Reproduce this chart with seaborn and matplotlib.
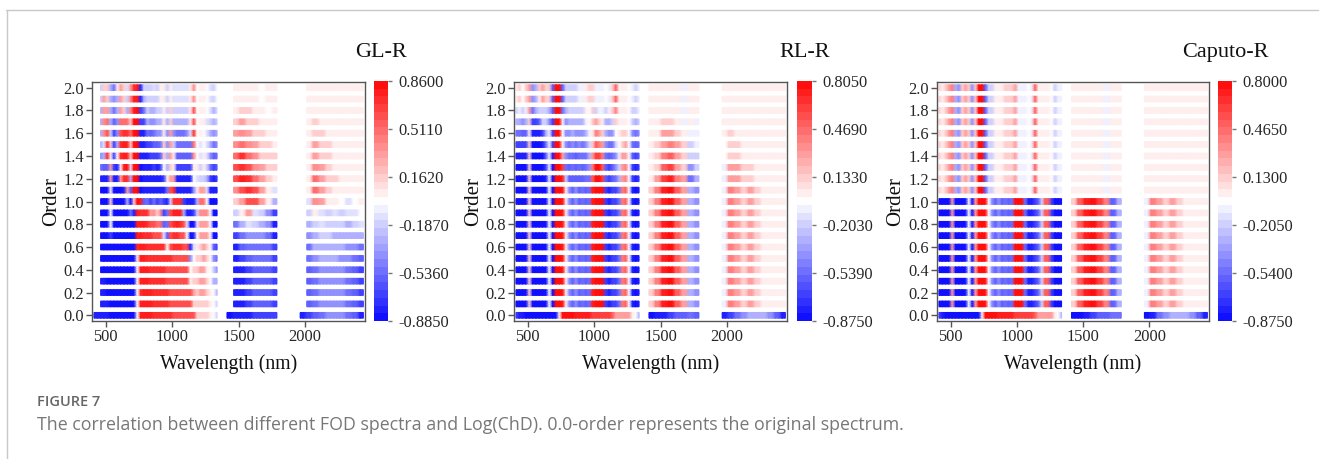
import numpy as np
import matplotlib
matplotlib.use("Agg")
import matplotlib.pyplot as plt
from matplotlib.colors import ListedColormap
from matplotlib.lines import Line2D
import seaborn as sns

N = None

tick_orders = [0.0, 0.2, 0.4, 0.6, 0.8, 1.0, 1.2, 1.4, 1.6, 1.8, 2.0]
tick_nm = [500, 1000, 1500, 2000]

# correlation in tenths, order 0.0 first. vis = 400-1350 nm in 25 nm bins
gl_vis = [
    [-8,-8,-8,-8,-8,-9,-9,-9,-9,-9, -9,-9,-9,0,8,8,8,8,7,7, 7,7,7,7,6,6,6,6,6,6, 6,2,2,2,2,1,0,-2],
    [N,N,-8,-8,-8,-9,-9,-9,-9,-9, -9,-9,-9,0,8,8,8,8,7,7, 7,7,7,6,6,6,6,6,6,6, 2,2,2,2,2,1,0,-2],
    [N,N,-8,-8,-9,-9,-9,-9,-9,-9, -9,-9,-9,0,7,8,8,8,7,7, 7,7,7,6,6,6,6,6,6,6, 3,2,3,3,2,1,0,-3],
    [N,N,-8,-8,-9,-9,-9,-9,-9,-9, -9,-9,-9,0,8,8,8,7,7,7, 7,7,6,6,6,6,6,6,6,1, 2,2,3,3,2,0,-3,-3],
    [N,N,-9,-9,-9,-9,-9,-9,-9,-9, -9,-9,-9,0,8,8,8,7,7,7, 7,7,6,6,6,6,6,6,6,0, 2,2,3,3,1,0,-2,-4],
    [N,N,-9,-9,-9,-9,-9,-9,-9,-9, -9,-9,-9,1,8,8,7,7,7,7, 7,7,7,7,6,6,6,6,6,-4, 0,2,2,3,2,0,-4,-5],
    [N,N,-9,-9,-9,-9,-9,-9,-9,-9, -9,-9,-9,7,8,8,7,7,7,7, 7,7,0,6,7,7,7,6,6,-8, -1,1,2,3,2,0,-6,-7],
    [N,N,-9,-9,-9,-7,-9,-9,-9,-9, -9,-9,-9,8,8,7,7,7,6,6, 6,-1,-6,6,7,7,6,6,0,-9, -8,0,3,3,3,0,-9,-9],
    [N,N,-9,-9,-9,0,-9,-9,-9,-9, -9,-9,-9,8,8,8,7,6,6,5, 5,-6,-5,6,7,8,7,6,-1,-9, -9,-1,3,3,3,0,-9,-9],
    [N,N,-9,-9,-9,0,-9,-9,-9,-9, -9,-5,-8,8,7,7,7,3,4,2, 4,-7,-5,6,8,8,8,-3,-8,-8, -7,-2,4,4,4,0,-9,-9],
    [N,N,-9,-9,-9,2,-9,-9,-9,-9, -3,-9,2,9,8,-6,-5,-7,-5,-7, -6,-7,-8,-2,7,7,7,-7,-8,-8, -8,-3,5,5,0,-9,-9,-9],
    [N,N,-9,-9,-9,1,-9,-9,-9,-8, 3,-6,9,9,-9,-8,-8,-8,-8,-8, -8,-8,-5,6,7,-8,-8,-8,-8,-8, -4,1,3,3,-1,-8,-8,-8],
    [N,N,-8,-8,-8,3,-8,-8,3,7, 7,-3,9,9,-9,-8,-8,-8,-8,-8, -8,-7,1,3,3,-8,-8,-8,-8,-8, 0,-1,-2,-2,-3,-7,-8,-7],
    [N,N,-5,-6,-6,3,-7,-8,1,8, 9,-1,9,9,-9,-8,-8,-8,-7,-8, -7,0,-3,2,1,-7,-7,-7,-7,-7, 1,1,-2,1,-2,-5,-7,-6],
    [N,N,-4,-3,7,1,-7,0,7,8, 8,2,9,9,-8,-8,-8,-7,-7,-7, -6,2,-3,3,1,-6,-6,-6,-6,-6, 4,0,-1,1,-1,-4,-6,-5],
    [N,N,-3,-1,7,2,-7,-3,7,8, 8,2,9,9,-8,-8,-7,-7,-6,-6, -5,2,-4,3,-2,-5,-5,-5,-5,-5, 5,0,-1,0,-1,-3,-5,-4],
    [N,N,-3,4,6,-2,-7,-4,6,7, 7,5,9,9,-8,-8,-5,-6,-5,-4, -4,1,-4,3,-4,-5,-5,-5,-4,-1, 7,0,1,0,-1,-3,-4,-3],
    [N,N,-3,4,5,-3,-6,-4,5,5, 5,2,9,9,-7,-7,-3,-4,-4,-3, -3,1,-3,2,-3,-3,-3,-3,-3,1, 6,0,1,1,-1,-2,-3,-2],
    [N,N,-3,3,3,-3,-5,-3,3,2, -3,4,8,9,-7,-5,-2,-3,-3,-2, -2,1,-2,2,-2,-2,-2,-2,-2,1, 6,0,1,1,0,-1,-3,-1],
    [N,N,-2,3,2,-3,-4,-3,3,2, -2,4,8,8,-8,-3,-2,-2,-2,-2, 1,1,-2,1,-1,-1,-1,-1,-1,1, 4,0,1,1,0,-1,-2,0],
    [N,N,-2,2,2,-3,-5,1,3,2, -1,3,7,8,-8,-2,-2,-2,-1,-2, 1,1,-2,1,-1,-1,-1,-1,-1,1, 4,0,1,1,0,-1,-2,0],
]

# swir = 1350-2450 nm in 50 nm bins
gl_swir = [
    [N,-9, -8,-8,-8,-7,-7,-7,-7, N,N,N,-8, -7,-6,-5,-4,-4,-4,-5,-6,-8],
    [N,N, -8,-8,-7,-6,-6,-6,-7, N,N,N,N, -6,-5,-4,-4,-4,-4,-5,-6,-7],
    [N,N, -8,-8,-7,-6,-6,-6,-7, N,N,N,N, -6,-5,-4,-4,-4,-4,-5,-6,-7],
    [N,N, -8,-8,-7,-6,-6,-6,-7, N,N,N,N, -6,-5,-4,-4,-4,-4,-5,-6,-7],
    [N,N, -8,-8,-7,-6,-6,-6,-7, N,N,N,N, -6,-5,-4,-4,-4,-4,-5,-6,-7],
    [N,N, -8,-7,-6,-5,-5,-5,-7, N,N,N,N, -5,-4,-3,-3,-3,-4,-4,-5,-6],
    [N,N, -8,-6,-5,-5,-5,-5,-7, N,N,N,N, -5,-3,-3,-3,-3,-3,-4,-4,-5],
    [N,N, -7,-5,-4,-4,-4,-5,-8, N,N,N,N, -4,-3,-2,-2,-3,-3,-3,-3,-3],
    [N,N, -5,-3,-1,-2,-3,-4,-8, N,N,N,N, -3,-2,-1,-2,-2,-2,-3,-2,-1],
    [N,N, -2,1,3,-1,-2,-4,-7, N,N,N,N, -2,1,-1,-2,-1,-2,-1,-1,0],
    [N,N, 2,3,6,6,3,1,-3, N,N,N,N, -1,4,3,1,1,0,-1,0,1],
    [N,N, 4,6,7,6,3,1,-1, N,N,N,N, 1,5,3,2,1,1,1,1,1],
    [N,N, 6,8,7,5,3,2,1, N,N,N,N, 1,5,3,2,2,1,1,1,1],
    [N,N, 6,7,6,4,3,2,2, N,N,N,N, 1,4,3,2,1,1,1,1,1],
    [N,N, 5,7,5,4,2,2,2, N,N,N,N, 1,3,2,2,1,1,1,1,1],
    [N,N, 4,5,4,3,2,2,1, N,N,N,N, 1,3,2,2,1,1,1,1,1],
    [N,N, 3,4,3,2,2,1,1, N,N,N,N, 1,2,2,1,1,1,1,1,1],
    [N,N, 2,3,2,2,1,1,1, N,N,N,N, 1,2,1,1,1,1,1,1,1],
    [N,N, 1,2,2,1,1,0,1, N,N,N,N, 1,1,1,1,1,1,1,1,1],
    [N,N, 1,1,1,1,0,1,1, N,N,N,N, 1,1,1,1,1,1,1,1,1],
    [N,N, 1,1,1,1,0,1,1, N,N,N,N, 1,1,1,1,1,1,1,1,1],
]

rl_vis_zero = [-7,-8,-8,-9,-9,-9,-9,-9,-9,-9, -9,-9,-9,1,8,8,8,8,7,7, 7,7,7,6,6,6,6,6,6,5, 3,3,3,3,3,1,0,-3]
rl_vis_low = [-9,-9,-9,-9,2,-9,-9,-9,-9,-9, 0,-9,8,9,8,1,-4,-6,-4,-6, -5,-6,-5,7,9,9,8,-7,-8,-7, -7,-5,4,5,0,-8,-9,-8]
rl_vis_high = [
    [-9,-9,-9,-9,2,-9,-9,-9,-9,-8, -1,-9,8,9,7,-2,-6,-6,-6,-6, -6,-5,-5,5,8,8,6,-6,-7,-6, -5,-3,3,4,0,-7,-8,-7],
    [-9,-9,-9,-9,2,-9,-9,-9,-9,-7, -1,-9,9,9,6,-5,-6,-5,-6,-5, -6,-5,-4,4,8,8,5,-6,-7,-6, -4,-2,3,4,0,-7,-8,-7],
    [-8,-8,-8,-8,2,-9,-9,-9,-9,-6, -1,-8,8,9,3,-4,-5,-5,-6,-5, -5,-5,-3,3,6,6,4,-5,-6,-5, -4,-1,3,3,0,-6,-7,-6],
    [-7,-7,-7,-7,2,-9,-9,-9,-8,-5, -1,-7,9,9,1,-4,-5,-4,-5,-4, -5,-4,-2,2,5,4,3,-4,-5,-5, -2,0,2,3,0,-5,-6,-5],
    [-5,-5,-6,-6,1,-8,-8,-8,-7,-3, -1,-7,9,9,0,-4,-4,-3,-4,-4, -4,-3,-1,1,4,3,2,-3,-4,-4, 0,1,2,2,0,-4,-5,-4],
    [-3,-3,-4,-3,2,-7,-7,-6,-2,-2, -4,-7,8,9,-1,-4,-3,-3,-3,-3, -3,-1,0,2,3,2,1,-3,-3,-2, 2,1,1,1,0,-2,-3,-2],
    [-2,-1,-2,-1,3,-5,-3,-2,-2,-2, -3,-6,8,9,-5,-3,-2,-2,-2,-2, -2,1,0,2,-2,-1,-1,-2,-1,2, 4,1,1,1,0,-2,-2,-1],
    [1,2,0,2,3,-4,-3,1,3,2, 2,-6,8,8,-6,-2,-2,-2,-2,-1, -1,1,2,2,-1,-1,-1,0,-1,2, 5,1,1,1,0,-1,-2,-1],
    [1,2,0,2,3,-4,-3,2,3,2, 2,-6,8,8,-6,-2,-2,-2,-2,-1, -1,1,2,2,-1,-1,-1,0,-1,2, 5,1,1,1,0,-1,-2,-1],
]
rl_swir_zero = [N,-9, -8,-8,-7,-6,-6,-5,-6, N,N,N,-8, -7,-5,-4,-3,-3,-3,-4,-6,-8]
rl_swir_low = [N,2, 4,7,8,5,3,-3,-4, N,N,N,-1, 4,3,2,3,2,1,1,1,1]
rl_swir_high = [
    [N,1, 3,6,7,4,3,-5,-3, N,N,N,-1, 3,3,2,2,1,1,1,1,1],
    [N,1, 2,5,6,3,2,-4,-2, N,N,N,-1, 3,3,2,2,1,1,1,1,1],
    [N,1, 2,4,5,3,2,-2,-2, N,N,N,0, 2,2,1,1,1,1,1,1,1],
    [N,1, 2,3,4,3,2,-2,-1, N,N,N,0, 2,2,1,1,1,1,1,1,1],
    [N,1, 1,3,3,2,1,-1,-1, N,N,N,1, 2,1,1,1,1,1,1,1,1],
    [N,1, 1,2,2,1,-1,1,-1, N,N,N,1, 1,1,1,1,1,1,1,1,1],
    [N,1, 1,1,1,1,-1,1,1, N,N,N,1, 1,1,1,1,1,1,1,1,1],
    [N,1, 1,1,1,1,-1,1,1, N,N,N,1, 1,1,1,1,1,1,1,1,1],
    [N,1, 1,1,1,1,-1,1,1, N,N,N,1, 1,1,1,1,1,1,1,1,1],
]

cap_vis_zero = [-7,-8,-9,-9,-9,-9,-9,-9,-9,-9, -9,-9,-9,1,8,8,8,8,7,7, 7,7,7,6,6,6,6,6,6,5, 3,3,3,3,3,1,0,-3]
cap_vis_low = [-9,-9,-9,-9,3,-9,-9,-9,-9,0, -9,3,8,9,9,0,-4,-6,-4,-6, -5,-6,-5,8,9,9,-5,-8,-8,-7, -6,-2,5,5,-7,-9,-9,-9]
cap_vis_high = [2,1,2,3,4,-3,-4,2,3,2, -4,2,8,9,-6,-2,-2,1,1,1, 2,2,2,3,-1,-1,-1,0,-1,5, 1,1,1,1,0,-2,-1,-1]
cap_swir_zero = [N,-9, -9,-8,-7,-6,-6,-5,-5, N,N,N,-9, -8,-5,-4,-3,-3,-3,-4,-6,-8]
cap_swir_low = [N,2, 5,7,8,6,4,-6,-3, N,N,N,-1, 4,3,2,3,2,1,1,1,1]
cap_swir_high = [N,1, 1,1,1,1,-1,1,1, N,N,N,1, 1,1,1,1,1,1,1,1,1]

rl_vis = [rl_vis_zero] + [rl_vis_low] * 11 + rl_vis_high
rl_swir = [rl_swir_zero] + [rl_swir_low] * 11 + rl_swir_high
cap_vis = [cap_vis_zero] + [cap_vis_low] * 10 + [cap_vis_high] * 10
cap_swir = [cap_swir_zero] + [cap_swir_low] * 10 + [cap_swir_high] * 10

# the four faintest steps of the lists, as correlation
faint_steps = {0: -0.03, 1: 0.03, 2: 0.15, -1: -0.1}

titles = ["GL-R", "RL-R", "Caputo-R"]
cbar_labels = [
    [0.8600, 0.5110, 0.1620, -0.1870, -0.5360, -0.8850],
    [0.8050, 0.4690, 0.1330, -0.2030, -0.5390, -0.8750],
    [0.8000, 0.4650, 0.1300, -0.2050, -0.5400, -0.8750],
]

W, H = 1319, 459
sns.set_theme(style="white")
plt.rcParams["font.family"] = ["Liberation Serif", "DejaVu Serif"]
plt.rcParams["text.color"] = "#111111"

fig = plt.figure(figsize=(W / 100, H / 100), dpi=100)


def px_axes(x0, x1, y0, y1):
    return fig.add_axes([x0 / W, 1 - y1 / H, (x1 - x0) / W, (y1 - y0) / H])


def grid_from(vis, swir):
    # each order gets 6 thin rows: blank, 4 coloured, blank
    grid = np.full((6 * 21, 82), np.nan)
    for k in range(21):
        steps = np.array(vis[k] + list(np.repeat(np.array(swir[k], dtype=float), 2)), dtype=float)
        row = steps / 10
        for step, value in faint_steps.items():
            row[steps == step] = value
        r = (20 - k) * 6
        grid[r + 1:r + 5] = row
    return grid


panels = [
    (gl_vis, gl_swir, 92, 365, 374, 388, 52, 381.5),
    (rl_vis, rl_swir, 514, 787, 797, 812, 474, 805),
    (cap_vis, cap_swir, 937, 1209, 1218, 1232, 896, 1225),
]
cmap = ListedColormap(sns.color_palette("bwr", 31))
cmap.set_bad("white")

for p, (vis, swir, x0, x1, cx0, cx1, ylab_x, title_x) in enumerate(panels):
    ax = px_axes(x0, x1, 82, 321)
    cax = px_axes(cx0, cx1, 81, 321)
    labels = cbar_labels[p]
    sns.heatmap(grid_from(vis, swir), ax=ax, cbar_ax=cax, cmap=cmap, shading="gouraud",
                vmin=labels[-1], vmax=labels[0], xticklabels=False, yticklabels=False)

    # gouraud puts each value on a grid node, so bin centres sit at whole numbers
    ax.set_xlim(-0.6, 81.5)
    ax.set_ylim(125.5, -0.5)
    ax.set_xticks([(nm - 412.5) / 25 for nm in tick_nm])
    ax.set_xticklabels([str(nm) for nm in tick_nm], fontsize=11.8)
    ax.set_yticks([(20 - o * 10) * 6 + 2.5 for o in tick_orders])
    ax.set_yticklabels([f"{o:.1f}" for o in tick_orders], fontsize=11.8, rotation=0)
    ax.tick_params(axis="x", length=4, width=1, color="#555555", bottom=True, pad=2)
    ax.tick_params(axis="y", length=4, width=1, color="#555555", left=True, pad=1.5)
    for side in ax.spines.values():
        side.set_visible(True)
        side.set_color("#555555")
        side.set_linewidth(1)

    cax.set_yticks(labels)
    cax.set_yticklabels([f"{v:.4f}" for v in labels], fontsize=11.8)
    cax.tick_params(axis="y", length=3, width=1, color="#777777", right=True, pad=4.5)
    ax.collections[0].colorbar.outline.set_visible(False)

    fig.text(title_x / W, 1 - 52.5 / H, titles[p], fontsize=16, ha="center", va="center")
    fig.text((x0 + x1) / 2 / W, 1 - 364.5 / H, "Wavelength (nm)", fontsize=14.2, ha="center", va="center")
    fig.text(ylab_x / W, 1 - 201 / H, "Order", fontsize=15, rotation=90, ha="center", va="center")

# page frame and caption
fig.add_artist(Line2D([6 / W, 1], [1 - 9.5 / H, 1 - 9.5 / H], color="#c8c8c8", lw=1))
fig.add_artist(Line2D([6.5 / W, 6.5 / W], [0, 1 - 9.5 / H], color="#c8c8c8", lw=1))
fig.text(37 / W, 1 - 402 / H, "FIGURE 7", fontsize=10.5, family="Open Sans", weight="semibold",
         color="#666666", ha="left", va="center")
fig.text(37 / W, 1 - 425 / H, "The correlation between different FOD spectra and Log(ChD). 0.0-order represents the original spectrum.",
         fontsize=12.8, family="Open Sans", color="#777777", ha="left", va="center")

fig.savefig("out.png", dpi=100)
